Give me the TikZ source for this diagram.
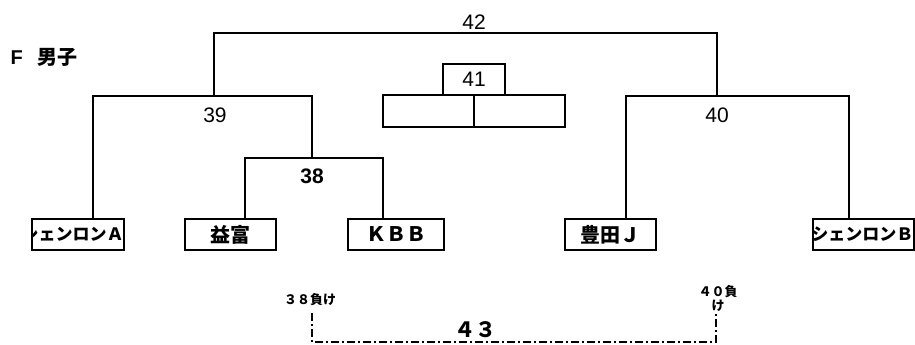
\documentclass[tikz,border=0pt]{standalone}
\usepackage{fontspec}
\setmainfont{Liberation Sans}
\newfontfamily\jp{Noto Sans CJK JP}

\begin{document}
\begin{tikzpicture}[x=1pt,y=-1pt,
  line/.style={line width=1.3pt},
  box/.style={draw,line width=1.8pt,inner sep=0pt,minimum height=31pt},
  num/.style={font=\fontsize{21}{21}\selectfont},
  team/.style={font=\jp\bfseries\fontsize{20}{20}\selectfont},
  shen/.style={font=\jp\bfseries\fontsize{17}{17}\selectfont,inner sep=0pt},
  loser/.style={font=\jp\bfseries\fontsize{13}{14}\selectfont,align=center},
  dashdot/.style={line width=1.4pt,dash pattern=on 8pt off 3pt on 2pt off 3pt}]
\useasboundingbox (0,0) rectangle (915,345);

\node[font=\bfseries\fontsize{20}{20}\selectfont,anchor=west] (title) at (7,57) {F\hspace{15pt}{\jp 男子}};

% teams
\node[box,minimum width=92pt] (shenA) at (78,234.5) {};
\node[box,team,minimum width=91pt] (masu) at (230.5,234.5) {益富};
\node[box,team,minimum width=96pt] (kbb) at (396,234.5) {ＫＢＢ};
\node[box,team,minimum width=91pt] (toyo) at (610.5,234.5) {豊田Ｊ};
\node[box,minimum width=101pt] (shenB) at (863.5,234.5) {};
\begin{scope}
  \clip (shenA.south west) rectangle (shenA.north east);
  \node[shen,anchor=east] (nameA) at ([xshift=-1pt]shenA.east) {シェンロンＡ};
\end{scope}
\begin{scope}
  \clip (shenB.south west) rectangle (shenB.north east);
  \node[shen,anchor=west] (nameB) at ([xshift=-1pt]shenB.west) {シェンロンＢ};
\end{scope}

% joints
\coordinate (l38) at (245,158);
\coordinate (r38) at (383,158);
\coordinate (l39) at (93,96);
\coordinate (r39) at (312,96);
\coordinate (m39) at (214,96);
\coordinate (l40) at (626,96);
\coordinate (r40) at (849,96);
\coordinate (m40) at (717,96);
\coordinate (r42) at (717,33);

\draw[line] (masu.north -| l38) |- (r38) -- (r38 |- kbb.north);
\draw[line] (shenA.north -| l39) |- (r39) -- (r39 |- r38);
\draw[line] (toyo.north -| l40) |- (r40) -- (r40 |- shenB.north);
\draw[line] (m39) |- (r42) -- (m40);

\node[num,font=\bfseries\fontsize{21}{21}\selectfont] (n38) at (312,176) {38};
\node[num] (n39) at (215,115) {39};
\node[num] (n40) at (717,115) {40};
\node[num] (n42) at (474,22) {42};

% 41
\node[box,num,line width=1.3pt,minimum width=62pt] (b41) at (474,79.5) {41};
\node[box,minimum width=91pt,minimum height=32pt] (s41a) at (428.5,111) {};
\node[box,minimum width=91pt,minimum height=32pt] (s41b) at (519.5,111) {};

% 43
\node[loser] (lose38) at (310,300) {３８負け};
\node[loser] (lose40) at (718,298) {４０負\\け};
\coordinate (c38) at (312,313);
\coordinate (c40) at (716,313);
\draw[dashdot] (c38) -- ++(0,29) -| (c40);
\node[font=\jp\bfseries\fontsize{21}{21}\selectfont] (n43) at (475,330) {４３};
\end{tikzpicture}
\end{document}
